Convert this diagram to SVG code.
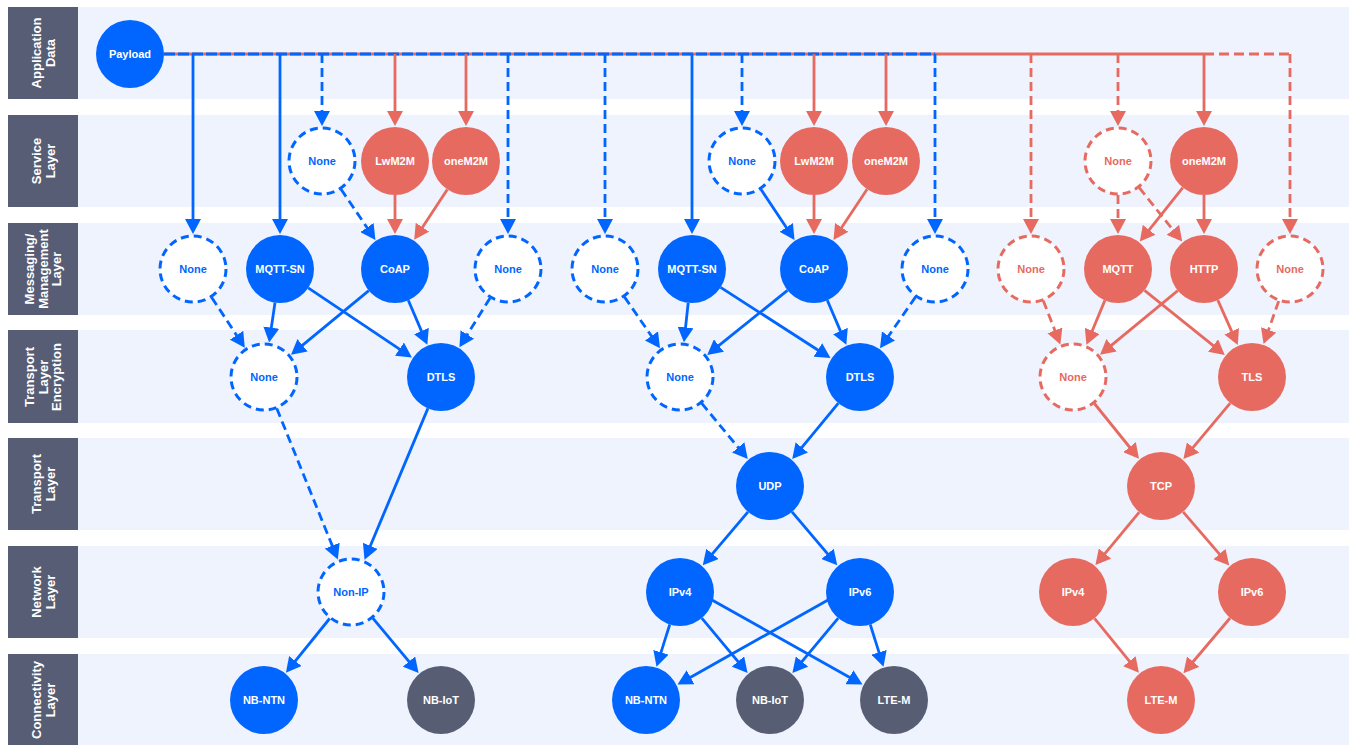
<svg xmlns="http://www.w3.org/2000/svg" width="1349" height="745" viewBox="0 0 1349 745">
<style>
.band{fill:#eff3fd}
.lbl{fill:#575d74}
.lt{fill:#fff;font-family:"Liberation Sans",Arial,sans-serif;font-weight:bold;font-size:13px;text-anchor:middle}
.nt{font-family:"Liberation Sans",Arial,sans-serif;font-weight:bold;font-size:11px;text-anchor:middle;dominant-baseline:central}
.fb{fill:#0066ff}
.fr{fill:#e76a60}
.fg{fill:#575e74}
.w{fill:#fff}
.db{fill:#fff;stroke:#0066ff;stroke-width:3;stroke-dasharray:8 5}
.dr{fill:#fff;stroke:#e76a60;stroke-width:3;stroke-dasharray:8 5}
.tb{fill:#0066ff}
.tr{fill:#e76a60}
.cb{stroke:#0066ff;stroke-width:2.8;fill:none;marker-end:url(#ab)}
.cr{stroke:#e76a60;stroke-width:2.8;fill:none;marker-end:url(#ar)}
.d{stroke-dasharray:9 5}
</style>
<defs>
<marker id="ab" viewBox="0 0 15 16" refX="5" refY="8" markerWidth="15" markerHeight="16" markerUnits="userSpaceOnUse" orient="auto"><path d="M0,0 L15,8 L0,16 z" fill="#0066ff"/></marker>
<marker id="ar" viewBox="0 0 15 16" refX="5" refY="8" markerWidth="15" markerHeight="16" markerUnits="userSpaceOnUse" orient="auto"><path d="M0,0 L15,8 L0,16 z" fill="#e76a60"/></marker>
</defs>
<rect width="1349" height="745" fill="#fff"/>
<g id="layers">
<rect class="band" x="78" y="7" width="1271" height="92"/>
<rect class="band" x="78" y="115" width="1271" height="92"/>
<rect class="band" x="78" y="223" width="1271" height="92"/>
<rect class="band" x="78" y="330" width="1271" height="93"/>
<rect class="band" x="78" y="438" width="1271" height="92"/>
<rect class="band" x="78" y="546" width="1271" height="92"/>
<rect class="band" x="78" y="654" width="1271" height="91"/>
<rect class="lbl" x="8" y="7" width="70" height="92"/>
<rect class="lbl" x="8" y="115" width="70" height="92"/>
<rect class="lbl" x="8" y="223" width="70" height="92"/>
<rect class="lbl" x="8" y="330" width="70" height="93"/>
<rect class="lbl" x="8" y="438" width="70" height="92"/>
<rect class="lbl" x="8" y="546" width="70" height="92"/>
<rect class="lbl" x="8" y="654" width="70" height="91"/>
<text class="lt" transform="translate(43,53) rotate(-90)"><tspan x="0" y="-2.5">Application</tspan><tspan x="0" y="11.5">Data</tspan></text>
<text class="lt" transform="translate(43,161) rotate(-90)"><tspan x="0" y="-2.5">Service</tspan><tspan x="0" y="11.5">Layer</tspan></text>
<text class="lt" transform="translate(43,269) rotate(-90)"><tspan x="0" y="-9">Messaging/</tspan><tspan x="0" y="4.5">Management</tspan><tspan x="0" y="18">Layer</tspan></text>
<text class="lt" transform="translate(43,377) rotate(-90)"><tspan x="0" y="-9">Transport</tspan><tspan x="0" y="4.5">Layer</tspan><tspan x="0" y="18">Encryption</tspan></text>
<text class="lt" transform="translate(43,484) rotate(-90)"><tspan x="0" y="-2.5">Transport</tspan><tspan x="0" y="11.5">Layer</tspan></text>
<text class="lt" transform="translate(43,592) rotate(-90)"><tspan x="0" y="-2.5">Network</tspan><tspan x="0" y="11.5">Layer</tspan></text>
<text class="lt" transform="translate(43,700) rotate(-90)"><tspan x="0" y="-2.5">Connectivity</tspan><tspan x="0" y="11.5">Layer</tspan></text>
</g>
<g id="connectors">
<line x1="164" y1="54" x2="1204" y2="54" stroke="#e76a60" stroke-width="3"/>
<line x1="1204" y1="54" x2="1292" y2="54" stroke="#e76a60" stroke-width="3" stroke-dasharray="10 5"/>
<line x1="164" y1="54" x2="935" y2="54" stroke="#0066ff" stroke-width="3" stroke-dasharray="11 3"/>
<path class="cb" d="M193,54 V224"/>
<path class="cb" d="M280,54 V224"/>
<path class="cb d" d="M322,54 V116"/>
<path class="cr" d="M395,54 V116"/>
<path class="cr" d="M466,54 V116"/>
<path class="cb d" d="M508,54 V224"/>
<path class="cb d" d="M605,54 V224"/>
<path class="cb" d="M692,54 V224"/>
<path class="cb d" d="M742,54 V116"/>
<path class="cr" d="M814,54 V116"/>
<path class="cr" d="M886,54 V116"/>
<path class="cb d" d="M935,54 V224"/>
<path class="cr d" d="M1031,54 V224"/>
<path class="cr d" d="M1118,54 V116"/>
<path class="cr" d="M1204,54 V116"/>
<path class="cr d" d="M1290,54 V224"/>
<path class="cb d" d="M341,189.2 L369.8,231.7"/>
<path class="cr" d="M395,195 V224"/>
<path class="cr" d="M447.3,189.4 L419.7,231.4"/>
<path class="cb" d="M760.9,189.3 L789,231.6"/>
<path class="cr" d="M814,195 V224"/>
<path class="cr" d="M867.1,189.3 L839,231.6"/>
<path class="cr d" d="M1118,195 V224"/>
<path class="cr d" d="M1139.2,187.6 L1176,233.8"/>
<path class="cr" d="M1182.8,187.6 L1146,233.8"/>
<path class="cr" d="M1204,195 V224"/>
<path class="cb d" d="M211.7,297.4 L239.3,339.4"/>
<path class="cb" d="M275,302.6 L270.6,332.5"/>
<path class="cb" d="M308.2,287.9 L403.6,351.9"/>
<path class="cb" d="M368.8,290.6 L298.7,348.4"/>
<path class="cb" d="M408.3,300.3 L423.4,335.6"/>
<path class="cb d" d="M490.1,297.9 L464.7,338.8"/>
<path class="cb d" d="M624.4,296.9 L654.3,340.1"/>
<path class="cb" d="M688.2,302.8 L685,332.3"/>
<path class="cb" d="M720.6,287.4 L822.1,352.7"/>
<path class="cb" d="M787.5,290.3 L715,348.7"/>
<path class="cb" d="M827.3,300.3 L842.4,335.6"/>
<path class="cb d" d="M915.6,296.9 L885.7,340.1"/>
<path class="cr d" d="M1043.3,300.7 L1056.7,335.1"/>
<path class="cr" d="M1104.9,300.4 L1090.3,335.5"/>
<path class="cr" d="M1144.5,290.3 L1217,348.7"/>
<path class="cr" d="M1177.8,290.6 L1107.7,348.4"/>
<path class="cr" d="M1217.8,300.1 L1233.7,335.9"/>
<path class="cr d" d="M1278.7,301.1 L1266.9,334.6"/>
<path class="cb d" d="M276.8,408.5 L334.1,550.3"/>
<path class="cb" d="M427.9,408.4 L368.4,550.5"/>
<path class="cb d" d="M701.6,403.2 L741.4,451.3"/>
<path class="cb" d="M838.4,403.2 L798.6,451.3"/>
<path class="cr" d="M1094.4,403.5 L1132.7,451"/>
<path class="cr" d="M1230.2,403.1 L1189.8,451.4"/>
<path class="cb" d="M748,511.9 L709.2,557.7"/>
<path class="cb" d="M792,511.9 L830.8,557.7"/>
<path class="cr" d="M1139.3,512.2 L1101.8,557.4"/>
<path class="cr" d="M1183.1,511.8 L1222.7,557.8"/>
<path class="cb" d="M329.7,618.5 L292.2,664.9"/>
<path class="cb" d="M372.8,618.1 L412.2,665.4"/>
<path class="cb" d="M669.8,624.4 L659.5,657.1"/>
<path class="cb" d="M701.8,618.1 L741.2,665.4"/>
<path class="cb" d="M712,600 L853.8,679.7"/>
<path class="cb" d="M828,600 L686.2,679.7"/>
<path class="cb" d="M838.2,618.1 L798.8,665.4"/>
<path class="cb" d="M870.2,624.4 L880.5,657.1"/>
<path class="cr" d="M1094.5,618.4 L1132.6,665.1"/>
<path class="cr" d="M1230.1,618 L1189.9,665.5"/>
</g>
<g id="payload"><circle class="fb" cx="130" cy="54" r="34"/><text class="nt w" x="130" y="54" font-size="12">Payload</text></g>
<g id="s1-none"><circle class="db" cx="322" cy="161" r="33"/><text class="nt tb" x="322" y="161">None</text></g>
<g id="s1-lwm2m"><circle class="fr" cx="395" cy="161" r="34"/><text class="nt w" x="395" y="161">LwM2M</text></g>
<g id="s1-onem2m"><circle class="fr" cx="466" cy="161" r="34"/><text class="nt w" x="466" y="161">oneM2M</text></g>
<g id="s2-none"><circle class="db" cx="742" cy="161" r="33"/><text class="nt tb" x="742" y="161">None</text></g>
<g id="s2-lwm2m"><circle class="fr" cx="814" cy="161" r="34"/><text class="nt w" x="814" y="161">LwM2M</text></g>
<g id="s2-onem2m"><circle class="fr" cx="886" cy="161" r="34"/><text class="nt w" x="886" y="161">oneM2M</text></g>
<g id="s3-none"><circle class="dr" cx="1118" cy="161" r="33"/><text class="nt tr" x="1118" y="161">None</text></g>
<g id="s3-onem2m"><circle class="fr" cx="1204" cy="161" r="34"/><text class="nt w" x="1204" y="161">oneM2M</text></g>
<g id="m1-none-a"><circle class="db" cx="193" cy="269" r="33"/><text class="nt tb" x="193" y="269">None</text></g>
<g id="m1-mqttsn"><circle class="fb" cx="280" cy="269" r="34"/><text class="nt w" x="280" y="269">MQTT-SN</text></g>
<g id="m1-coap"><circle class="fb" cx="395" cy="269" r="34"/><text class="nt w" x="395" y="269">CoAP</text></g>
<g id="m1-none-b"><circle class="db" cx="508" cy="269" r="33"/><text class="nt tb" x="508" y="269">None</text></g>
<g id="m2-none-a"><circle class="db" cx="605" cy="269" r="33"/><text class="nt tb" x="605" y="269">None</text></g>
<g id="m2-mqttsn"><circle class="fb" cx="692" cy="269" r="34"/><text class="nt w" x="692" y="269">MQTT-SN</text></g>
<g id="m2-coap"><circle class="fb" cx="814" cy="269" r="34"/><text class="nt w" x="814" y="269">CoAP</text></g>
<g id="m2-none-b"><circle class="db" cx="935" cy="269" r="33"/><text class="nt tb" x="935" y="269">None</text></g>
<g id="m3-none-a"><circle class="dr" cx="1031" cy="269" r="33"/><text class="nt tr" x="1031" y="269">None</text></g>
<g id="m3-mqtt"><circle class="fr" cx="1118" cy="269" r="34"/><text class="nt w" x="1118" y="269">MQTT</text></g>
<g id="m3-http"><circle class="fr" cx="1204" cy="269" r="34"/><text class="nt w" x="1204" y="269">HTTP</text></g>
<g id="m3-none-b"><circle class="dr" cx="1290" cy="269" r="33"/><text class="nt tr" x="1290" y="269">None</text></g>
<g id="e1-none"><circle class="db" cx="264" cy="377" r="33"/><text class="nt tb" x="264" y="377">None</text></g>
<g id="e1-dtls"><circle class="fb" cx="441" cy="377" r="34"/><text class="nt w" x="441" y="377">DTLS</text></g>
<g id="e2-none"><circle class="db" cx="680" cy="377" r="33"/><text class="nt tb" x="680" y="377">None</text></g>
<g id="e2-dtls"><circle class="fb" cx="860" cy="377" r="34"/><text class="nt w" x="860" y="377">DTLS</text></g>
<g id="e3-none"><circle class="dr" cx="1073" cy="377" r="33"/><text class="nt tr" x="1073" y="377">None</text></g>
<g id="e3-tls"><circle class="fr" cx="1252" cy="377" r="34"/><text class="nt w" x="1252" y="377">TLS</text></g>
<g id="t-udp"><circle class="fb" cx="770" cy="486" r="34"/><text class="nt w" x="770" y="486">UDP</text></g>
<g id="t-tcp"><circle class="fr" cx="1161" cy="486" r="34"/><text class="nt w" x="1161" y="486">TCP</text></g>
<g id="n-nonip"><circle class="db" cx="351" cy="592" r="33"/><text class="nt tb" x="351" y="592">Non-IP</text></g>
<g id="n2-ipv4"><circle class="fb" cx="680" cy="592" r="34"/><text class="nt w" x="680" y="592">IPv4</text></g>
<g id="n2-ipv6"><circle class="fb" cx="860" cy="592" r="34"/><text class="nt w" x="860" y="592">IPv6</text></g>
<g id="n3-ipv4"><circle class="fr" cx="1073" cy="592" r="34"/><text class="nt w" x="1073" y="592">IPv4</text></g>
<g id="n3-ipv6"><circle class="fr" cx="1252" cy="592" r="34"/><text class="nt w" x="1252" y="592">IPv6</text></g>
<g id="c1-nbntn"><circle class="fb" cx="264" cy="700" r="34"/><text class="nt w" x="264" y="700">NB-NTN</text></g>
<g id="c1-nbiot"><circle class="fg" cx="441" cy="700" r="34"/><text class="nt w" x="441" y="700">NB-IoT</text></g>
<g id="c2-nbntn"><circle class="fb" cx="646" cy="700" r="34"/><text class="nt w" x="646" y="700">NB-NTN</text></g>
<g id="c2-nbiot"><circle class="fg" cx="770" cy="700" r="34"/><text class="nt w" x="770" y="700">NB-IoT</text></g>
<g id="c2-ltem"><circle class="fg" cx="894" cy="700" r="34"/><text class="nt w" x="894" y="700">LTE-M</text></g>
<g id="c3-ltem"><circle class="fr" cx="1161" cy="700" r="34"/><text class="nt w" x="1161" y="700">LTE-M</text></g>
</svg>
